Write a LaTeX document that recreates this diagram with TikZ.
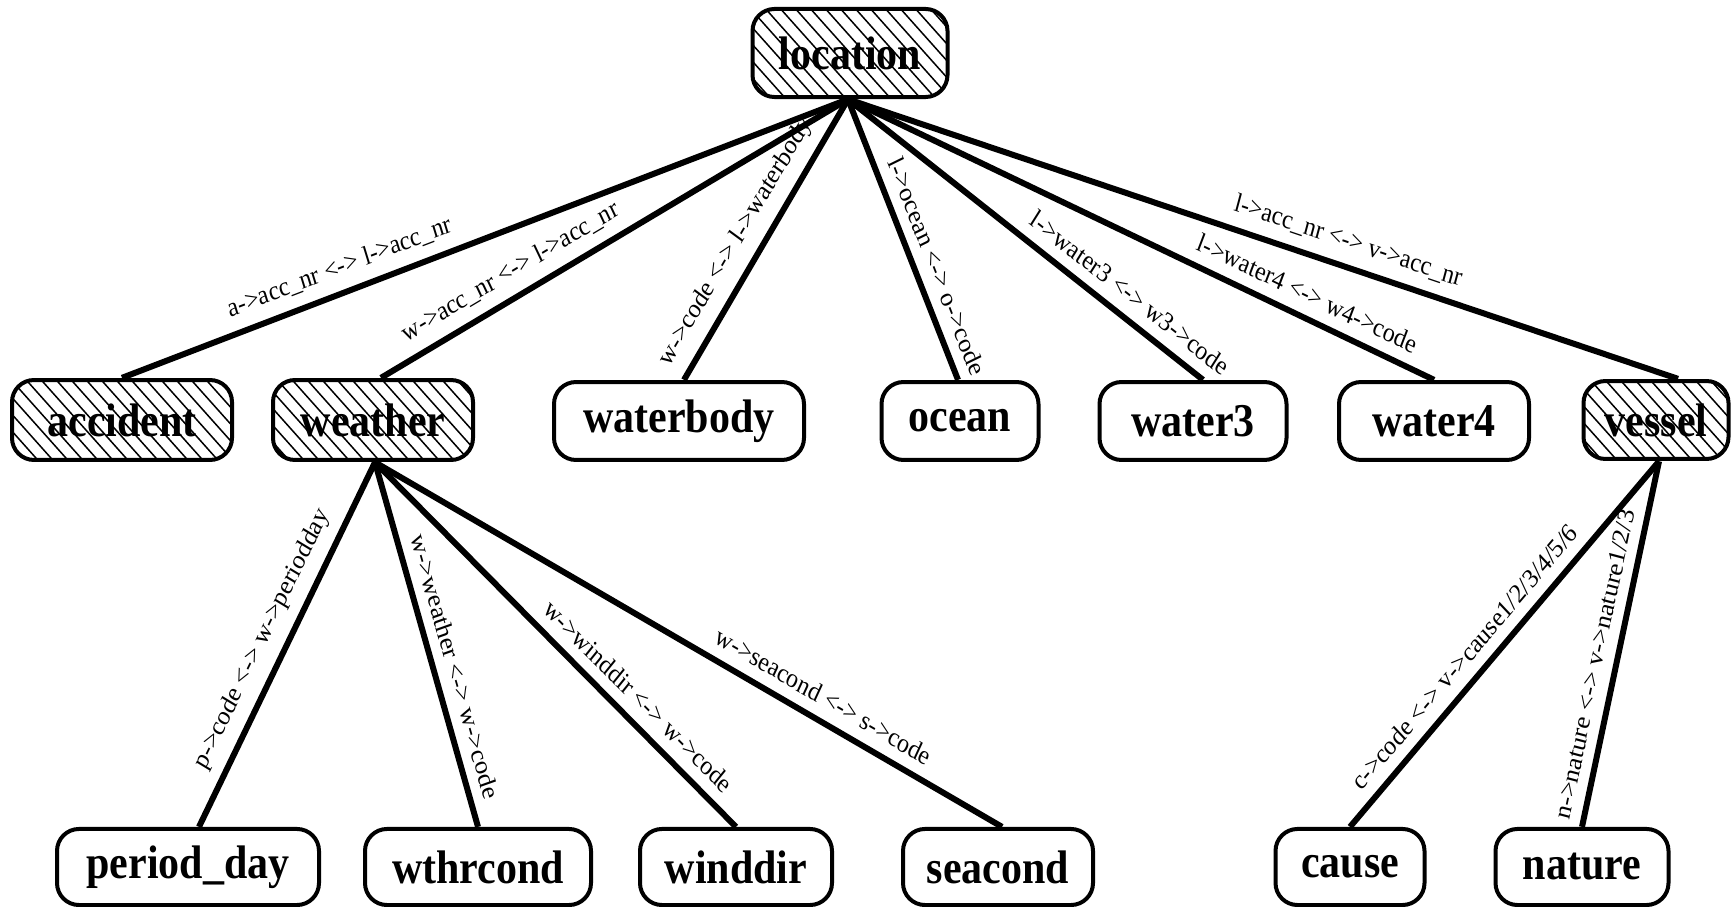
\documentclass[tikz,border=0pt]{standalone}
\usepackage{fontspec}
\setmainfont{Liberation Serif}
\tikzset{
  box/.style={draw, line width=4pt, rounded corners=22pt, inner sep=0pt,
    font=\fontsize{42}{44}\selectfont\bfseries},
  hatched/.style={box, path picture={
    \foreach \k in {-14,...,14} {
      \draw[line width=1.5pt] ([xshift=\k*15pt-60pt, yshift=60pt]path picture bounding box.center) -- ++(120pt,-120pt);
    }}},
  edge/.style={line width=6pt},
  lab/.style={sloped, above=8pt, inner sep=2pt, font=\fontsize{24}{26}\selectfont}
}
\begin{document}
\begin{tikzpicture}[x=1pt,y=-0.89286pt,yscale=1.12,transform shape]
\useasboundingbox (0,0) rectangle (1731,907);
% top
\node[hatched, minimum width=195pt, minimum height=78.6pt] (location) at (850,53) {location};
% middle row
\node[hatched, minimum width=220pt, minimum height=71.4pt] (accident) at (122,420) {accident};
\node[hatched, minimum width=200pt, minimum height=71.4pt] (weather) at (373,420) {weather};
\node[box, minimum width=250pt, minimum height=69.6pt] (waterbody) at (679,421) {waterbody};
\node[box, minimum width=157pt, minimum height=69.6pt] (ocean) at (960,421) {ocean};
\node[box, minimum width=187pt, minimum height=69.6pt] (water3) at (1193,421) {water3};
\node[box, minimum width=190pt, minimum height=69.6pt] (water4) at (1434,421) {water4};
\node[hatched, minimum width=145pt, minimum height=69.6pt] (vessel) at (1656,420) {vessel};
% bottom row
\node[box, minimum width=262pt, minimum height=67.9pt] (period) at (188,867) {period\_day};
\node[box, minimum width=226pt, minimum height=67.9pt] (wthrcond) at (478,867) {wthrcond};
\node[box, minimum width=192pt, minimum height=67.9pt] (winddir) at (736,867) {winddir};
\node[box, minimum width=190pt, minimum height=67.9pt] (seacond) at (998,867) {seacond};
\node[box, minimum width=149pt, minimum height=67.9pt] (cause) at (1350,867) {cause};
\node[box, minimum width=173pt, minimum height=67.9pt] (nature) at (1582,867) {nature};
% edges from location
\draw[edge] ([xshift=-2pt]location.south) -- (accident.north)
  node[lab, pos=0.69] {a->acc\_nr <-> l->acc\_nr};
\draw[edge] ([xshift=-2pt]location.south) -- ([xshift=8pt]weather.north)
  node[lab, pos=0.70] {w->acc\_nr <-> l->acc\_nr};
\draw[edge] ([xshift=-2pt]location.south) -- ([xshift=5pt]waterbody.north)
  node[lab, pos=0.56] {w->code <-> l->waterbody};
\draw[edge] ([xshift=-2pt]location.south) -- ([xshift=-2pt]ocean.north)
  node[lab, pos=0.63] {l->ocean <-> o->code};
\draw[edge] ([xshift=-2pt]location.south) -- ([xshift=10pt]water3.north)
  node[lab, pos=0.76] {l->water3 <-> w3->code};
\draw[edge] ([xshift=-2pt]location.south) -- (water4.north)
  node[lab, pos=0.77] {l->water4 <-> w4->code};
\draw[edge] ([xshift=-2pt]location.south) -- ([xshift=22pt]vessel.north)
  node[lab, pos=0.595] {l->acc\_nr <-> v->acc\_nr};
% edges from weather
\draw[edge] ([xshift=2pt]weather.south) -- ([xshift=11pt]period.north)
  node[lab, pos=0.52] {p->code <-> w->periodday};
\draw[edge] ([xshift=2pt]weather.south) -- (wthrcond.north)
  node[lab, pos=0.58] {w->weather <-> w->code};
\draw[edge] ([xshift=2pt]weather.south) -- (winddir.north)
  node[lab, pos=0.69] {w->winddir <-> w->code};
\draw[edge] ([xshift=2pt]weather.south) -- ([xshift=4pt]seacond.north)
  node[lab, pos=0.70] {w->seacond <-> s->code};
% edges from vessel
\draw[edge] ([xshift=3pt]vessel.south) -- (cause.north)
  node[lab, pos=0.58] {c->code <-> v->cause1/2/3/4/5/6};
\draw[edge] ([xshift=3pt]vessel.south) -- (nature.north)
  node[lab, pos=0.57] {n->nature <-> v->nature1/2/3};
\end{tikzpicture}
\end{document}
